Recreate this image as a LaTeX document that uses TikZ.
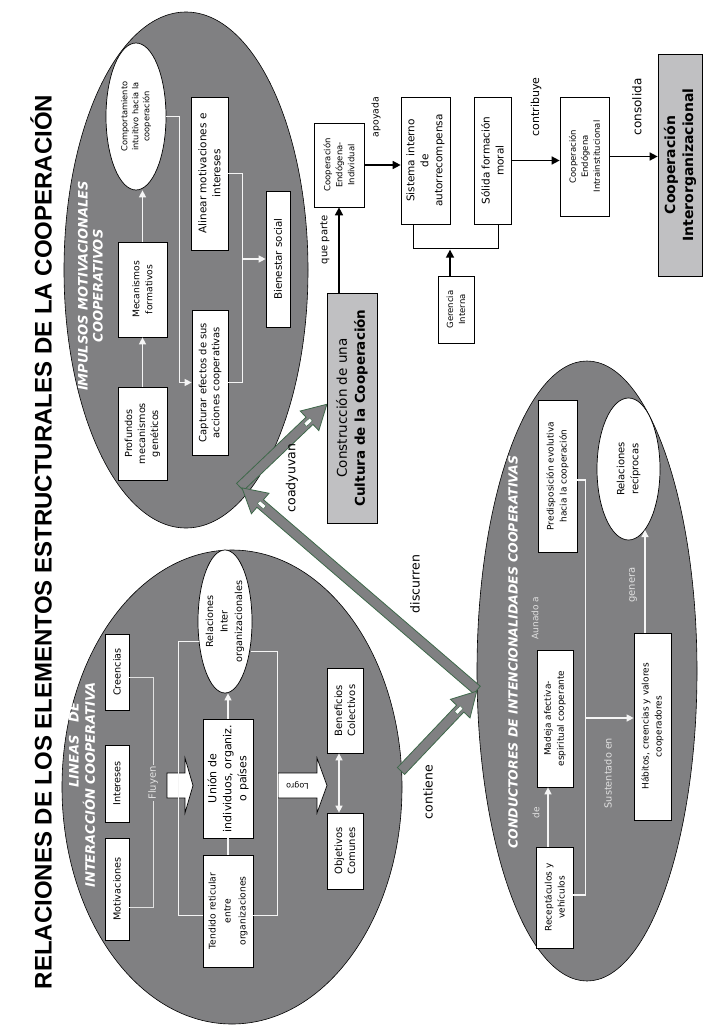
\documentclass[tikz,border=0pt]{standalone}
\usepackage{fontspec}
\setmainfont{DejaVu Sans}
\newfontfamily\titlefont{Liberation Sans}
\usetikzlibrary{shapes.geometric,calc,arrows.meta}
\definecolor{ellgray}{RGB}{128,128,130}
\definecolor{boxgray}{RGB}{192,192,194}
\definecolor{agreen}{RGB}{62,104,74}
\definecolor{wl}{RGB}{245,245,245}
\definecolor{lgray}{RGB}{225,225,225}
\newcommand{\fatarrow}[3]{%
 \begin{scope}[shift={#1}, rotate=#2]
   \draw[draw=agreen, fill=ellgray, line width=0.8pt, line join=miter]
     (0,-5) -- ({#3-24},-5) -- ({#3-24},-13.5) -- (#3,0) -- ({#3-24},13.5) -- ({#3-24},5) -- (0,5) -- cycle;
   \draw[draw=agreen, fill=white, line width=0.4pt] ({#3-30},-2) rectangle ({#3-22},2);
 \end{scope}}
\begin{document}
\begin{tikzpicture}[x=1pt,y=-1pt,
  bigell/.style={ellipse, draw=black, fill=ellgray, line width=0.6pt, inner sep=0pt},
  wbox/.style={draw=black, line width=0.7pt, fill=white, rotate=90, align=center, inner sep=0pt},
  wovl/.style={ellipse, draw=black, line width=0.7pt, fill=white, rotate=90, inner sep=0pt},
  gbox/.style={draw=black, line width=0.7pt, fill=boxgray, rotate=90, align=center, inner sep=0pt},
  otext/.style={rotate=90, align=center, inner sep=0pt},
  wline/.style={draw=wl, line width=1.3pt},
  warr/.style={wline, -{Triangle[length=7pt,width=7pt]}},
  wdarr/.style={wline, {Triangle[length=7pt,width=7pt]}-{Triangle[length=7pt,width=7pt]}},
  thinw/.style={draw=lgray, line width=0.8pt},
  barr/.style={draw=black, line width=1.6pt, -{Triangle[length=8pt,width=8pt]}},
  bline/.style={draw=black, line width=0.7pt},
  lab/.style={rotate=90, inner sep=0pt},
  wlab/.style={rotate=90, text=lgray, inner sep=0pt},
  head/.style={rotate=90, text=white, align=center, inner sep=0pt, font=\bfseries\itshape\fontsize{13}{15}\selectfont},
  blk/.style={draw=black, line width=0.7pt, fill=white, line join=miter}
]
\useasboundingbox (0,0) rectangle (703,1025);

% title
\node[rotate=90, inner sep=0pt, font=\titlefont\bfseries\fontsize{24}{26}\selectfont] (title) at (41,542) {RELACIONES DE LOS ELEMENTOS ESTRUCTURALES DE LA COOPERACIÓN};

% big ellipses
\node[bigell, minimum width=244, minimum height=516] (ellT) at (186,270) {};
\node[bigell, minimum width=340, minimum height=474] (ellL) at (232,787) {};
\node[bigell, minimum width=220, minimum height=620] (ellC) at (587,671) {};

% green arrows
\coordinate (gC) at (240,487);
\coordinate (gD) at (477,690);
\coordinate (gL) at (401,771);
\fatarrow{(gC)}{43.6}{120}
\fatarrow{(gD)}{139.3}{310}
\fatarrow{(gL)}{46.5}{110}
\node[lab, font=\fontsize{12.5}{14}\selectfont] (lcoad) at (292,478) {coadyuvan};
\node[lab, font=\fontsize{12.5}{14}\selectfont] (ldisc) at (415,584) {discurren};
\node[lab, font=\fontsize{12.5}{14}\selectfont] (lcont) at (428,792) {contiene};

% ---------- IMPULSOS ----------
\node[head] (hT) at (90.5,286) {IMPULSOS MOTIVACIONALES\\COOPERATIVOS};
\node[wovl, minimum width=147, minimum height=60] (comp) at (136,116.5) {};
\node[otext, font=\fontsize{8.3}{11}\selectfont] at (comp) {Comportamiento\\intuitivo hacia la\\cooperación};
\node[wbox, minimum width=153, minimum height=37, font=\fontsize{10.5}{14}\selectfont] (alin) at (209.5,173.5) {Alinear motivaciones e\\intereses};
\node[wbox, minimum width=136, minimum height=24, font=\fontsize{10.3}{12}\selectfont] (bien) at (278,259) {Bienestar social};
\node[wbox, minimum width=95, minimum height=49, font=\fontsize{9.2}{13}\selectfont] (meca) at (142.5,289.5) {Mecanismos\\formativos};
\node[wbox, minimum width=93, minimum height=49, font=\fontsize{9.7}{13}\selectfont] (prof) at (142.5,433.5) {Profundos\\mecanismos\\genéticos};
\node[wbox, minimum width=145, minimum height=36, font=\fontsize{10}{13}\selectfont] (capt) at (210,382.5) {Capturar efectos de sus\\acciones cooperativas};
\draw[warr] (prof.east) -- (meca.west);
\draw[warr] (meca.east) -- (meca.east |- comp.west);
\draw[warr] (comp.south) -- ++(13,0) |- (capt.north);
\draw[wline] (alin.south) -- ++(14,0) |- (capt.south);
\coordinate (aj) at ($(alin.south)+(14,0)$);
\draw[warr] (aj |- bien.north) -- (bien.north);

% ---------- right chain ----------
\node[wbox, minimum width=84, minimum height=50, font=\fontsize{8.5}{12}\selectfont] (cei) at (339,165) {Cooperación\\Endógena-\\Individual};
\node[wbox, minimum width=127, minimum height=49, font=\fontsize{10.5}{14}\selectfont] (sis) at (425.5,160.5) {Sistema interno\\de\\autorrecompensa};
\node[wbox, minimum width=127, minimum height=37, font=\fontsize{10.5}{14}\selectfont] (sol) at (492.5,160.5) {Sólida formación\\moral};
\node[wbox, minimum width=67, minimum height=36, font=\fontsize{8.5}{12}\selectfont] (ger) at (456,309.5) {Gerencia\\Interna};
\node[wbox, minimum width=119, minimum height=49, font=\fontsize{8.5}{12}\selectfont] (ceii) at (584.5,156.5) {Cooperación\\Endógena\\Intrainstitucional};
\node[gbox, minimum width=222, minimum height=44, font=\bfseries\fontsize{14}{18}\selectfont] (ci) at (680,165) {Cooperación\\Interorganizacional};
\node[gbox, minimum width=230, minimum height=50, font=\fontsize{13.5}{18}\selectfont] (cons) at (352,408) {Construcción de una\\\textbf{Cultura de la Cooperación}};
\draw[barr] (cons.east -| cei.center) -- (cei.west);
\draw[barr] (cei.south) -- (cei.south -| sis.north);
\draw[barr] (sol.south) -- (sol.south -| ceii.north);
\draw[barr] (ceii.south) -- (ceii.south -| ci.north);
\coordinate (b1) at ($(sis.west)+(-12,0)$);
\coordinate (b2) at ($(sol.west)+(6,0)$);
\draw[bline] (b1) -- ++(0,24) -| (b2);
\draw[barr] ($(ger.east)+(-6,0)$) -- ++(0,-26);
\node[lab, font=\fontsize{10}{12}\selectfont] (lqp) at (325,240) {que parte};
\node[lab, font=\fontsize{9.3}{12}\selectfont] (lap) at (376,117) {apoyada};
\node[lab, font=\fontsize{11}{12}\selectfont] (lctr) at (536,107) {contribuye};
\node[lab, font=\fontsize{12}{12}\selectfont] (lcsl) at (637,107) {consolida};

% ---------- LINEAS ----------
\node[head] (hL1) at (74,745) {LINEAS\quad DE};
\node[head] (hL2) at (89,785) {INTERACCIÓN COOPERATIVA};
\node[wbox, minimum width=76, minimum height=24, font=\fontsize{9.7}{12}\selectfont] (cre) at (117,672) {Creencias};
\node[wbox, minimum width=77, minimum height=24, font=\fontsize{9.7}{12}\selectfont] (int) at (117,783.5) {Intereses};
\node[wbox, minimum width=102, minimum height=24, font=\fontsize{9.7}{12}\selectfont] (mot) at (117,889) {Motivaciones};
\node[wovl, minimum width=143, minimum height=54] (rel) at (225,621.5) {};
\node[otext, font=\fontsize{9.7}{14.5}\selectfont] at (rel) {Relaciones\\Inter\\organizacionales};
\node[wbox, minimum width=119, minimum height=50, font=\fontsize{11}{15}\selectfont] (uni) at (228,778.5) {Unión de\\individuos, organiz.\\o países};
\node[wbox, minimum width=112, minimum height=50, font=\fontsize{9.2}{15}\selectfont] (ten) at (228,911) {Tendido reticular\\entre\\organizaciones};
\node[wbox, minimum width=85, minimum height=36, font=\fontsize{10}{13}\selectfont] (ben) at (345,710.5) {Beneficios\\Colectivos};
\node[wbox, minimum width=76, minimum height=36, font=\fontsize{10}{13}\selectfont] (obj) at (345,851) {Objetivos\\Comunes};
\draw[blk] (167,773) -- (185,773) -- (185,758) -- (193,785.5) -- (185,813) -- (185,798) -- (167,798) -- cycle;
\draw[blk] (278,773) -- (317,773) -- (317,758) -- (327,785.5) -- (317,813) -- (317,798) -- (278,798) -- cycle;
\node[rotate=180, inner sep=0pt, font=\fontsize{8}{10}\selectfont] (logro) at (297.5,785.5) {Logro};
\coordinate (fc) at ($(cre.south)+(0,5)$);
\coordinate (fm) at ($(mot.south)+(0,18)$);
\draw[thinw] (fc) -- ++(24,0) |- (fm);
\node[wlab, fill=ellgray, inner sep=1.5pt, font=\fontsize{10}{12}\selectfont] (fly) at (153,783) {Fluyen};
\draw[wline, line width=1pt] ($(rel.north)+(1,20)$) -- ++(-20,0) |- ($(ten.north)+(0,4)$);
\draw[wline, line width=1pt] ($(rel.south)+(-1,30)$) -- ++(26,0) |- ($(ten.south)+(0,4)$);
\draw[warr] (uni.east) -- (uni.east |- rel.west);
\draw[wline] (uni.west) -- (ten.east);
\draw[wdarr] ($(ben.west)+(-6,0)$) -- ($(obj.east)+(-6,0)$);

% ---------- CONDUCTORES ----------
\node[head, font=\bfseries\itshape\fontsize{12.5}{15}\selectfont] (hC) at (513,652) {CONDUCTORES DE INTENCIONALIDADES COOPERATIVAS};
\node[wbox, minimum width=152, minimum height=39, font=\fontsize{9}{13}\selectfont] (pre) at (557.5,476) {Predisposición evolutiva\\hacia la cooperación};
\node[wovl, minimum width=142, minimum height=63] (rr) at (628.5,469) {};
\node[otext, font=\fontsize{10}{14}\selectfont] at (rr) {Relaciones\\recíprocas};
\node[wbox, minimum width=137, minimum height=36, font=\fontsize{9}{13}\selectfont] (mad) at (555,718.5) {Madeja afectiva-\\espiritual cooperante};
\node[wbox, minimum width=187, minimum height=37, font=\fontsize{9}{13}\selectfont] (hab) at (652.5,726.5) {Hábitos, creencias y valores\\cooperadores};
\node[wbox, minimum width=101, minimum height=37, font=\fontsize{9}{13}\selectfont] (rec) at (554.5,897.5) {Receptáculos y\\vehículos};
\draw[wline] ($(pre.south)+(0,4)$) -- ++(8,0) |- ($(rec.south)+(0,-2.5)$);
\coordinate (cj) at (585,718);
\draw[warr] (cj) -- (cj -| hab.north);
\draw[warr] ($(rec.east)+(-6.5,0)$) -- ($(mad.west)+(-7,0)$);
\draw[warr] ($(hab.east)+(-7.5,0)$) -- (645,530);
\node[wlab, font=\fontsize{9}{11}\selectfont] (lau) at (535,618) {Aunado a};
\node[wlab, font=\fontsize{9}{11}\selectfont] (lde) at (536,813) {de};
\node[wlab, font=\fontsize{9.7}{11}\selectfont] (lsu) at (608,773) {Sustentado en};
\node[wlab, font=\fontsize{10}{11}\selectfont] (lge) at (633,585) {genera};
\end{tikzpicture}
\end{document}
